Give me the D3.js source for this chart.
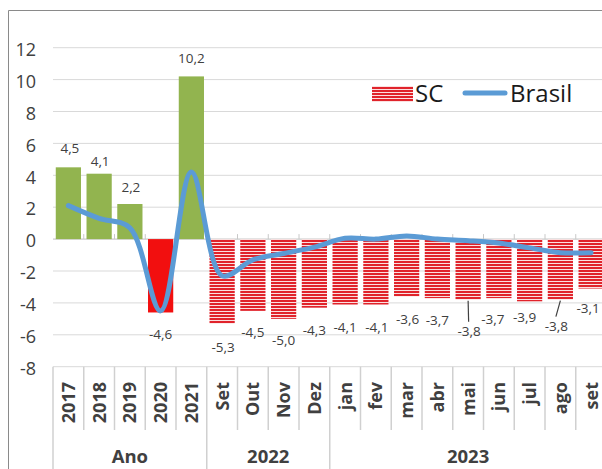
<!DOCTYPE html>
<html>
<head>
<meta charset="utf-8">
<script src="https://cdn.jsdelivr.net/npm/d3@7"></script>
<style>
  body { margin: 0; background: #fff; }
  svg { display: block; font-family: "Open Sans", sans-serif; }
</style>
</head>
<body>
<svg width="602" height="469"></svg>
<script>
var categories = ["2017", "2018", "2019", "2020", "2021", "Set", "Out", "Nov", "Dez",
                  "jan", "fev", "mar", "abr", "mai", "jun", "jul", "ago", "set"];
var groupNames = ["Ano", "2022", "2023"];
var groupSizes = [5, 4, 9];
var scValues = [4.5, 4.1, 2.2, -4.6, 10.2, -5.3, -4.5, -5.0, -4.3,
                -4.1, -4.1, -3.6, -3.7, -3.8, -3.7, -3.9, -3.8, -3.1];
var brasilValues = [2.1, 1.3, 0.7, -4.5, 4.2, -2.3, -1.3, -0.9, -0.5,
                    0.05, 0.0, 0.2, 0.0, -0.1, -0.25, -0.55, -0.85, -0.85];
var yTicks = [12, 10, 8, 6, 4, 2, 0, -2, -4, -6, -8];

// hand-placed data labels in the original: nudge from default spot
var labelDx = [1.5, 1, 1, 0, 0, 1, 0, 0, 0, 0, 1, 1, 0, 1, -6, -5, -4, -3];
var labelDy = [-14, -8, -12, 27, -13, 28, 26, 26, 27, 27.5, 27.5, 27.5, 27, 36, 26, 21, 31, 24];
var leaders = [13, 16];

var svg = d3.select("svg"),
    W = +svg.attr("width"),
    H = +svg.attr("height");

var x = d3.scaleBand()
    .domain(categories)
    .range([53, 606.5])
    .paddingInner(0.18)
    .paddingOuter(0.09);

var y = d3.scaleLinear().domain([-8, 12]).range([366.7, 47.7]);

var cx = function(i) { return x(categories[i]) + x.bandwidth() / 2; };
var bound = function(k) { return x.range()[0] + k * x.step(); };

// frame
svg.append("path")
    .attr("d", "M8.5," + H + "V10.5H" + W)
    .attr("fill", "none")
    .attr("stroke", "#8a8a8a");

// stripe pattern for monthly SC bars
var defs = svg.append("defs");
var pat = defs.append("pattern")
    .attr("id", "stripes")
    .attr("patternUnits", "userSpaceOnUse")
    .attr("width", 8).attr("height", 3);
pat.append("rect").attr("width", 8).attr("height", 3).attr("fill", "#fbe0e0");
pat.append("rect").attr("width", 8).attr("height", 2).attr("fill", "#e0232b");

// gridlines
svg.append("g")
    .selectAll("line")
    .data(yTicks)
    .enter().append("line")
    .attr("x1", 53).attr("x2", W)
    .attr("y1", function(d) { return y(d); })
    .attr("y2", function(d) { return y(d); })
    .attr("stroke", "#d9d9d9")
    .attr("stroke-width", 1);

// y axis labels
var yAxis = d3.axisLeft(y).tickValues(yTicks).tickSize(0).tickPadding(0)
    .tickFormat(function(d) { return d; });
var gy = svg.append("g")
    .attr("transform", "translate(36,2)")
    .call(yAxis);
gy.select(".domain").remove();
gy.selectAll("text")
    .attr("font-family", "Open Sans")
    .attr("font-size", 18)
    .attr("fill", "#404040");

// zero axis + small ticks
svg.append("line")
    .attr("x1", 53).attr("x2", W)
    .attr("y1", y(0)).attr("y2", y(0))
    .attr("stroke", "#cfcfcf");
svg.append("g")
    .selectAll("line")
    .data(d3.range(1, categories.length))
    .enter().append("line")
    .attr("x1", function(k) { return bound(k); })
    .attr("x2", function(k) { return bound(k); })
    .attr("y1", y(0) - 5).attr("y2", y(0))
    .attr("stroke", "#c8c8c8");

// bars
svg.append("g")
    .selectAll("rect")
    .data(scValues)
    .enter().append("rect")
    .attr("x", function(d, i) { return x(categories[i]); })
    .attr("width", x.bandwidth())
    .attr("y", function(d) { return y(Math.max(0, d)); })
    .attr("height", function(d) { return Math.abs(y(d) - y(0)); })
    .attr("fill", function(d, i) {
      if (i >= groupSizes[0]) return "url(#stripes)";
      return d < 0 ? "#f20f0f" : "#92b44f";
    });

// Brasil line
var line = d3.line()
    .x(function(d, i) { return cx(i); })
    .y(function(d) { return y(d); })
    .curve(d3.curveCatmullRom.alpha(0.5));

svg.append("path")
    .datum(brasilValues)
    .attr("d", line)
    .attr("fill", "none")
    .attr("stroke", "#5b9bd5")
    .attr("stroke-width", 5)
    .attr("stroke-linecap", "round")
    .attr("stroke-linejoin", "round");

// data labels
var fmt = function(v) { return d3.format(".1f")(v).replace(".", ",").replace("−", "-"); };
var lblY = function(d, i) { return y(d) + labelDy[i]; };
var lblX = function(d, i) { return cx(i) + labelDx[i]; };

svg.append("g")
    .selectAll("line")
    .data(leaders)
    .enter().append("line")
    .attr("x1", function(i) { return cx(i); })
    .attr("y1", function(i) { return y(scValues[i]) + 1; })
    .attr("x2", function(i) { return lblX(scValues[i], i) - 0.5; })
    .attr("y2", function(i) { return lblY(scValues[i], i) - 14; })
    .attr("stroke", "#404040")
    .attr("stroke-width", 1.2);

svg.append("g")
    .selectAll("text")
    .data(scValues)
    .enter().append("text")
    .attr("x", lblX)
    .attr("y", lblY)
    .attr("text-anchor", "middle")
    .attr("font-size", 13.5)
    .attr("fill", "#404040")
    .text(fmt);

// category labels (rotated)
var xAxis = d3.axisBottom(x).tickSize(0).tickPadding(0);
var gx = svg.append("g")
    .attr("transform", "translate(0,382)")
    .call(xAxis);
gx.select(".domain").remove();
gx.selectAll(".tick text")
    .attr("font-family", "Open Sans")
    .attr("font-size", 18)
    .attr("font-weight", "bold")
    .attr("fill", "#404040")
    .attr("text-anchor", "end")
    .attr("x", 0)
    .attr("y", 0)
    .attr("dy", "0.36em")
    .attr("transform", "rotate(-90)");

// separators in label area
var starts = [0];
groupSizes.forEach(function(s, j) { starts.push(starts[j] + s); });

svg.append("g")
    .selectAll("line")
    .data(d3.range(0, categories.length + 1))
    .enter().append("line")
    .attr("x1", function(k) { return bound(k); })
    .attr("x2", function(k) { return bound(k); })
    .attr("y1", y(-8))
    .attr("y2", function(k) { return starts.indexOf(k) >= 0 ? H : 430; })
    .attr("stroke", "#d0d0d0")
    .attr("stroke-width", 1.5);

// group labels
svg.append("g")
    .selectAll("text")
    .data(groupNames)
    .enter().append("text")
    .attr("x", function(d, j) { return (bound(starts[j]) + bound(starts[j + 1])) / 2; })
    .attr("y", 463)
    .attr("text-anchor", "middle")
    .attr("font-size", 18.5)
    .attr("font-weight", "bold")
    .attr("fill", "#404040")
    .text(function(d) { return d; });

// legend
var lg = svg.append("g");
lg.append("rect")
    .attr("x", 372).attr("y", 86)
    .attr("width", 41).attr("height", 16)
    .attr("fill", "url(#stripes)");
lg.append("text")
    .attr("x", 415).attr("y", 102)
    .attr("font-size", 24)
    .attr("fill", "#1a1a1a")
    .text("SC");
lg.append("line")
    .attr("x1", 465).attr("x2", 505)
    .attr("y1", 93).attr("y2", 93)
    .attr("stroke", "#5b9bd5")
    .attr("stroke-width", 5)
    .attr("stroke-linecap", "round");
lg.append("text")
    .attr("x", 510).attr("y", 102)
    .attr("font-size", 24)
    .attr("fill", "#1a1a1a")
    .text("Brasil");
</script>
</body>
</html>
